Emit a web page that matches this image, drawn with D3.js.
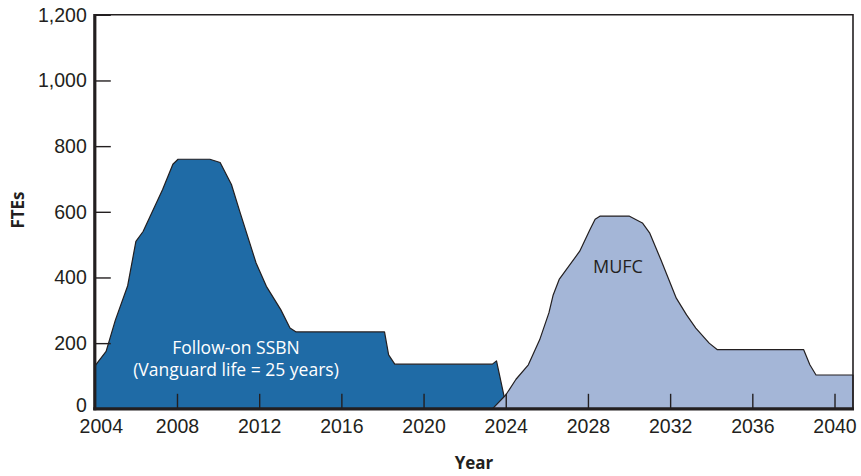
<!DOCTYPE html>
<html>
<head>
<meta charset="utf-8">
<script src="https://cdn.jsdelivr.net/npm/d3@7"></script>
<style>
  body { margin: 0; background: #fff; }
  svg { font-family: "Open Sans", "Noto Sans", sans-serif; }
</style>
</head>
<body>
<svg id="chart" width="861" height="476"></svg>
<script>
// data
const ssbnYears = [2004.0, 2004.0, 2004.55, 2005.0, 2005.6, 2006.0, 2006.35, 2007.3, 2007.8, 2008.05, 2009.6, 2010.1, 2010.65, 2011.05, 2011.85, 2012.35, 2013.05, 2013.5, 2013.8, 2018.1, 2018.3, 2018.6, 2023.35, 2023.55, 2024.05];
const ssbnFTEs  = [0, 130, 175, 270, 375, 510, 540, 668, 745, 760, 760, 750, 683, 602, 444, 373, 302, 246, 234, 234, 164, 136, 136, 146, 0];
const mufcYears = [2023.35, 2024.0, 2024.5, 2025.1, 2025.65, 2026.1, 2026.3, 2026.6, 2027.6, 2028.1, 2028.35, 2028.6, 2030.0, 2030.65, 2031.0, 2031.55, 2032.3, 2032.8, 2033.25, 2033.9, 2034.3, 2038.5, 2038.8, 2039.1, 2040.9, 2040.9];
const mufcFTEs  = [0, 42, 90, 134, 210, 292, 345, 394, 480, 546, 577, 587, 587, 566, 536, 454, 337, 286, 246, 200, 180, 180, 134, 103, 103, 0];
const xTicks = [2004, 2008, 2012, 2016, 2020, 2024, 2028, 2032, 2036, 2040];
const yTicks = [0, 200, 400, 600, 800, 1000, 1200];

const toPoints = (xs, ys) => {
    let arr = [];
    for (let i = 0; i < xs.length; i++) {
        arr.push({ year: xs[i], fte: ys[i] });
    }
    return arr;
}

const buildVis = (svg_name) => {
    let chart = d3.select(svg_name);
    let ink = "#231f20";

    let x = d3.scaleLinear()
                .domain([2004, 2040.9])
                .range([94.8, 853]);
    let y = d3.scaleLinear()
                .domain([0, 1200])
                .range([408.8, 14.8]);

    let area = d3.area()
                .x((d) => { return x(d.year); })
                .y0(y(0))
                .y1((d) => { return y(d.fte); });

    // SSBN first, MUFC sits on top where they meet
    chart.append("path")
        .datum(toPoints(ssbnYears, ssbnFTEs))
        .attr("d", area)
        .attr("fill", "#1f6ba6")
        .attr("stroke", ink)
        .attr("stroke-width", 1.2)
        .attr("stroke-linejoin", "round");

    chart.append("path")
        .datum(toPoints(mufcYears, mufcFTEs))
        .attr("d", area)
        .attr("fill", "#a4b6d7")
        .attr("stroke", ink)
        .attr("stroke-width", 1.2)
        .attr("stroke-linejoin", "round");

    // axes, ticks pointing inward
    let y_axis = d3.axisLeft(y).tickValues(yTicks).tickSize(-16).tickPadding(8)
                    .tickFormat(d3.format(","));
    let x_axis = d3.axisBottom(x).tickValues(xTicks).tickSize(-15).tickPadding(10)
                    .tickFormat(d3.format("d"));

    let gy = chart.append("g").attr("transform", "translate(" + x(2004) + ",0)").call(y_axis);
    let gx = chart.append("g").attr("transform", "translate(0," + y(0) + ")").call(x_axis);
    for (let g of [gx, gy]) {
        g.select(".domain").remove();
        g.selectAll(".tick line").attr("stroke", ink).attr("stroke-width", 1.4);
        g.selectAll(".tick text")
            .attr("fill", ink)
            .style("font-size", "19.5px");
    }
    gx.selectAll(".tick text").filter((d) => d === 2004).attr("dx", 6);
    // the zero label sits a little above its tick, clear of "2004"
    gy.selectAll(".tick text").filter((d) => d === 0).attr("y", -4);

    // frame
    chart.append("line").attr("x1", x(2004) - 0.5).attr("x2", 853).attr("y1", 14.8).attr("y2", 14.8)
        .attr("stroke", ink).attr("stroke-width", 1.6);
    chart.append("line").attr("x1", 853).attr("x2", 853).attr("y1", 14).attr("y2", y(0))
        .attr("stroke", ink).attr("stroke-width", 1.6);
    chart.append("line").attr("x1", x(2004)).attr("x2", x(2004)).attr("y1", 14).attr("y2", y(0) + 1.5)
        .attr("stroke", ink).attr("stroke-width", 3.2);
    chart.append("line").attr("x1", x(2004) - 1.5).attr("x2", 854).attr("y1", y(0)).attr("y2", y(0))
        .attr("stroke", ink).attr("stroke-width", 3.2);

    // labels inside the areas
    chart.append("text")
        .attr("x", 236).attr("y", 354)
        .attr("text-anchor", "middle")
        .attr("fill", "#ffffff")
        .style("font-size", "17.5px")
        .text("Follow-on SSBN");
    chart.append("text")
        .attr("x", 236).attr("y", 376)
        .attr("text-anchor", "middle")
        .attr("fill", "#ffffff")
        .style("font-size", "17.5px")
        .text("(Vanguard life = 25 years)");
    chart.append("text")
        .attr("x", 618).attr("y", 273)
        .attr("text-anchor", "middle")
        .attr("fill", ink)
        .style("font-size", "18px")
        .text("MUFC");

    // axis titles
    chart.append("text")
        .attr("transform", "rotate(-90)")
        .attr("x", -210)
        .attr("y", 24)
        .attr("text-anchor", "middle")
        .attr("fill", ink)
        .style("font-weight", "bold")
        .style("font-size", "17px")
        .text("FTEs");
    chart.append("text")
        .attr("x", 474)
        .attr("y", 469)
        .attr("text-anchor", "middle")
        .attr("fill", ink)
        .style("font-weight", "bold")
        .style("font-size", "17px")
        .text("Year");
}

buildVis("#chart");
</script>
</body>
</html>
